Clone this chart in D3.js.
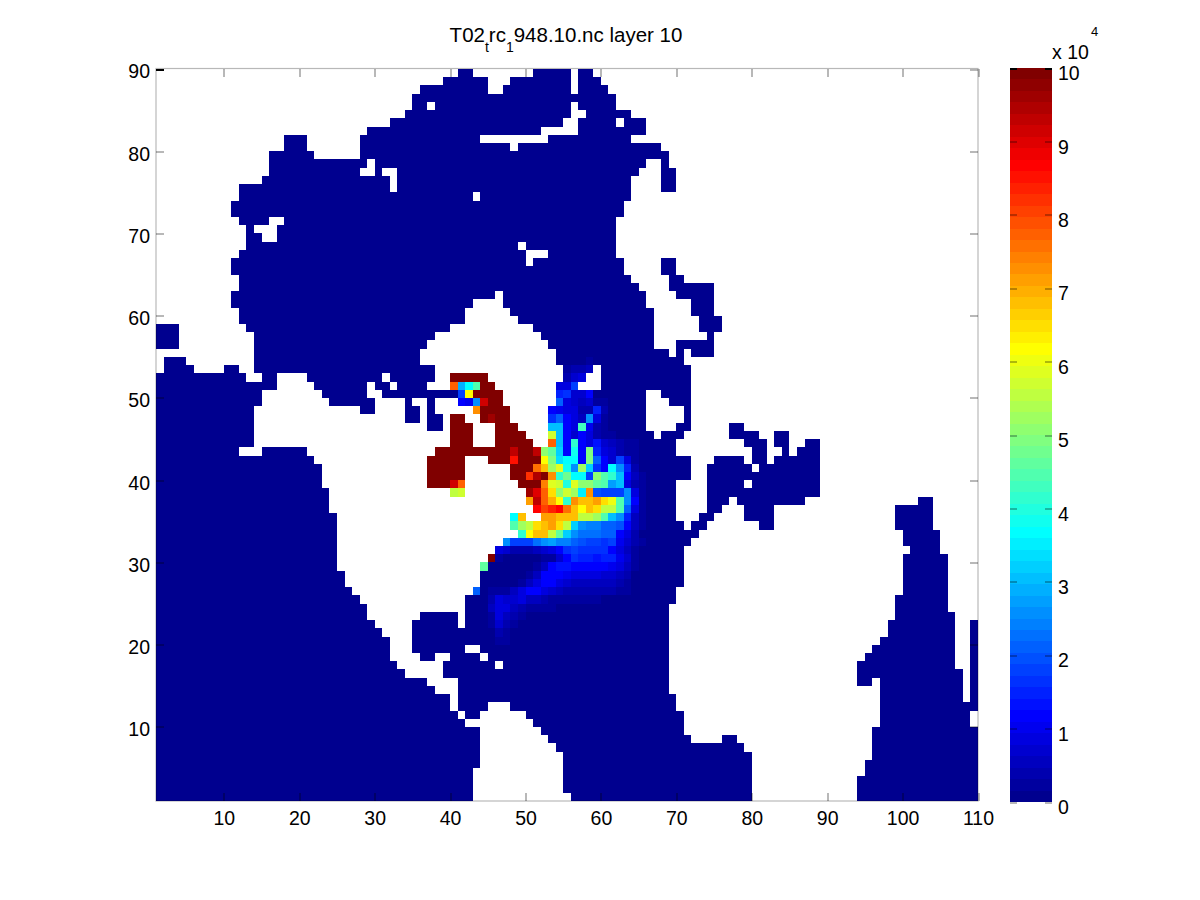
<!DOCTYPE html>
<html><head><meta charset="utf-8">
<script src="https://cdn.jsdelivr.net/npm/d3@7/dist/d3.min.js"></script>
<style>html,body{margin:0;background:#fff}svg{display:block}text{font-family:"Liberation Sans",Arial,sans-serif;fill:#000}</style>
</head><body><div id="c"></div>
<script>
const xTicks=[10,20,30,40,50,60,70,80,90,100,110];
const yTicks=[10,20,30,40,50,60,70,80,90];
const barTicks=[0,1,2,3,4,5,6,7,8,9,10];
// ocean mask: [layer row, from col, to col, from col, to col ...]
const seaRows=[
[89,41,42,51,55,57,58],[88,39,44,48,55,57,59],[87,36,44,47,55,57,60],[86,35,61],[85,35,36,38,55,57,61],
[84,34,55,58,63],[83,32,54,57,61,63,65],[82,29,51,57,65],[81,18,20,28,43,53,63],[80,18,20,28,47,49,67],
[79,16,21,28,68],[78,16,28,30,65,68,68],[77,16,27,30,30,33,64,68,69],[76,15,31,33,63,68,69],[75,12,31,33,63,68,69],
[74,12,42,44,63],[73,11,62],[72,11,62],[71,12,15,18,61],[70,13,13,17,61],[69,13,14,17,61],[68,13,48,50,61],
[67,12,49,53,61],[66,11,49,51,62,68,69],[65,11,62,68,69],[64,12,63,69,70],[63,12,64,69,74],[62,11,45,47,65,70,74],
[61,11,42,47,65,72,74],[60,12,41,48,66,72,74],[59,12,41,49,66,73,75],[58,1,3,13,39,51,66,73,75],[57,1,3,14,37,52,66,74,74],
[56,1,3,14,36,53,66,70,74],[55,14,35,54,68,70,70,72,74],[54,2,4,14,35,54,70],[53,2,5,10,11,14,37,55,58,60,71],
[52,1,12,15,16,21,30,32,37,55,57,60,71],[51,1,16,22,28,30,31,33,36,54,56,60,71],[50,1,14,23,28,31,40,54,65,68,71],
[49,1,14,24,29,34,34,37,37,54,65,69,71],[48,1,13,28,29,34,35,37,37,53,65,71,71],[47,1,13,34,35,37,38,53,65,71,71],
[46,1,13,37,38,53,65,70,71,77,78],[45,1,13,53,66,68,70,77,80,83,84],[44,1,13,53,69,79,81,83,84,87,88],
[43,1,11,15,20,52,69,80,81,84,84,86,88],[42,1,21,52,71,75,78,80,81,83,88],[41,1,22,51,71,74,79,81,88],
[40,1,22,50,71,74,88],[39,1,22,52,69,74,78,80,88],[38,1,23,50,69,74,88],[37,1,23,50,69,74,76,78,86,102,103],
[36,1,23,51,69,74,75,79,82,99,103],[35,1,24,52,69,73,74,79,82,99,103],[34,1,24,48,70,72,73,81,82,99,103],
[33,1,24,49,72,100,104],[32,1,24,47,71,100,104],[31,1,24,46,70,101,104],[30,1,24,46,70,100,105],[29,1,24,44,70,100,105],
[28,1,25,44,70,100,105],[27,1,25,44,70,100,105],[26,1,26,43,69,100,105],[25,1,27,42,69,99,105],[24,1,28,42,68,99,105],
[23,1,28,36,40,42,68,99,106],[22,1,29,35,40,42,68,98,106,109,109],[21,1,30,35,68,98,106,109,109],[20,1,31,35,68,97,106,109,109],
[19,1,31,35,41,44,68,96,106,109,109],[18,1,31,36,37,40,43,45,68,95,106,109,109],[17,1,32,39,45,47,68,94,106,109,109],
[16,1,33,39,68,94,107,109,109],[15,1,36,41,68,94,95,97,107,109,109],[14,1,37,41,68,97,107,109,109],[13,1,39,41,69,97,107,109,109],
[12,1,39,41,44,48,69,97,109],[11,1,40,42,43,50,70,97,108],[10,1,41,51,70,97,108],[9,1,43,52,70,96,109],[8,1,43,53,71,76,77,96,109],
[7,1,43,54,78,96,109],[6,1,43,55,79,96,109],[5,1,43,55,79,95,109],[4,1,42,55,79,95,109],[3,1,42,55,79,94,109],[2,1,42,55,79,94,109],[1,1,42,56,79,94,109]
];
// saturated cells (value above the colour limit): [row, from, to, from, to ...]
const saturatedRows=[
[52,40,44],[51,44,45],[50,43,46],[49,45,46],[48,44,47],[47,40,41,44,44,46,47],[46,40,42,46,48],[45,40,42,46,49],[44,40,42,46,50],
[43,38,47,49,50],[42,37,41,45,47,49,51],[41,37,41,48,50],[40,37,41,48,49],[39,37,39,49,51],[30,45,45]
];
// tracer values in units of 10^4: [row, first col, [values...]]
const plumeRows=[
[54,58,[.23]],
[53,55,[.23,.39,.39,.55]],
[52,55,[.39,.70,.86]],
[51,40,[7.73,2.89,3.67,4.45]],
[51,54,[.86,.86,1.80]],
[50,41,[1.80,6.17]],
[50,54,[1.48,1.64,.70,.70,1.17]],
[49,41,[1.17,1.02,2.58,9.14]],
[49,54,[2.11,.86,.70,.55,.70,.23,.23]],
[48,43,[7.27]],
[48,53,[1.17,1.02,.86,.86,.39,.39,1.48,.39]],
[47,45,[9.61]],
[47,53,[1.64,2.11,1.17,.86,.55,2.58,.86,.23]],
[46,53,[3.05,3.05,1.17,.86,4.30,1.02,.39,.23]],
[45,53,[5.70,3.05,1.17,.70,1.17,.86,.39,.23,.23]],
[44,53,[7.73,3.05,1.17,4.14,1.17,.86,1.33,.70,.55,.39,.23,.23]],
[43,48,[9.30]],
[43,51,[9.30,5.08,4.61,3.20,1.17,3.83,1.17,4.92,1.48,.86,.70,.39,.23,.23]],
[42,48,[8.52]],
[42,52,[6.17,4.92,3.36,3.67,3.67,1.17,4.92,2.11,1.17,.70,1.80,.86,.23]],
[41,51,[7.58,6.80,5.23,5.86,3.83,2.58,5.23,3.20,1.64,1.17,3.67,2.58,1.48,.39]],
[40,50,[8.20,9.45,9.92,7.27,4.14,4.77,3.67,3.67,1.80,5.08,4.45,4.14,3.05,1.17,.55,.23]],
[39,40,[9.14,7.73]],
[39,52,[7.42,5.86,5.70,3.98,5.86,5.08,5.08,4.61,4.45,2.73,3.05,.86,.39,.23]],
[38,40,[5.55,5.70]],
[38,50,[9.61,8.98,7.73,6.48,5.08,5.70,5.23,3.52,7.27,1.95,1.80,1.80,1.80,2.58,.86,.23]],
[37,50,[7.11,9.30,7.73,6.95,6.17,4.14,7.27,6.80,6.80,7.11,6.48,6.02,4.45,2.58,1.17,.23]],
[36,51,[8.67,8.05,8.36,8.67,7.58,6.80,6.17,6.80,6.48,5.55,5.55,4.45,2.11,.86,.23]],
[35,48,[3.67,6.80]],
[35,52,[7.11,7.11,6.80,6.80,6.80,5.55,5.55,5.23,4.45,3.05,2.58,1.48,.55,.23]],
[34,48,[4.45,5.23,5.55,6.48,6.80,7.11,6.48,5.55,3.20,2.58,2.42,2.42,2.11,2.11,1.95,1.17,.55,.23]],
[33,49,[4.14,6.17,6.80,6.80,5.55,4.61,3.20,2.58,2.27,2.27,2.27,2.11,2.11,1.17,.86,.39,.08]],
[32,47,[2.58,1.80,1.80,1.80,2.27,2.58,2.73,2.42,2.42,2.11,1.95,1.80,1.80,1.64,1.80,1.02,.70,.39,.23]],
[31,46,[.86,.70,.39,.39,.39,.55,.70,.86,1.17,1.64,1.80,1.64,1.64,1.64,1.64,1.17,.86,.55,.23,.08]],
[30,46,[.23,.08,.08,.08,.08,.08,.23,.23,.70,1.17,1.64,1.48,1.48,1.33,1.48,1.48,1.02,.70,.23]],
[29,44,[4.61,.08,.08,.08,.08,.08,.08,.23,.55,1.17,1.33,1.33,1.17,1.17,1.17,1.17,1.17,1.02,.86,.55,.23]],
[28,50,[.23,.55,1.17,1.17,1.17,1.02,.86,.86,.86,.86,.70,.70,.55,.39,.08]],
[27,49,[.23,.55,.86,1.17,1.17,.86,.70,.55,.55,.55,.55,.55,.55,.39,.23]],
[26,43,[2.11,.08,.23,.23,.23,.55,.86,1.17,1.17,.86,.70,.55,.39,.39,.39,.39,.39,.39,.39,.23,.23]],
[25,45,[.39,.86,.70,.70,.86,.55,.55,.39,.23,.23,.23,.23,.23,.23,.23]],
[24,45,[.55,.86,.86,.55,.39,.23,.23,.23,.23]],
[23,45,[.23,.86,.55,.39,.23]],
[22,45,[.23,.70,.39,.23]],
[21,45,[.08,.39,.23]],
[20,46,[.23,.23]]
];

function jet(i){ // MATLAB jet(64), i = 0..63
  const n=i+1;
  const ramp=(v)=>Math.round(255*Math.max(0,Math.min(1,v)));
  const r=n<=56?ramp((n-24)/16):ramp(1-(n-56)/16);
  const g=n<=40?ramp((n-8)/16):ramp(1-(n-40)/16);
  const b=n<=24?ramp(n<=8?(.5+n/16):1):ramp(1-(n-24)/16);
  return d3.rgb(r,g,b).formatHex();
}
const jetRange=d3.range(64).map(jet);

const W=1200,H=900,L=156,R=978,T=69,B=801;
const x=d3.scaleLinear().domain([1,110]).range([L,R]);
const y=d3.scaleLinear().domain([1,90]).range([B,T]);
const color=d3.scaleQuantize().domain([0,10]).range(jetRange);

const grid=new Map();
const key=(c,r)=>c+"_"+r;
seaRows.forEach(row=>{for(let i=1;i<row.length;i+=2)for(let c=row[i];c<=row[i+1];c++)grid.set(key(c,row[0]),{c,r:row[0],v:0});});
saturatedRows.forEach(row=>{for(let i=1;i<row.length;i+=2)for(let c=row[i];c<=row[i+1];c++)grid.set(key(c,row[0]),{c,r:row[0],v:10.5});});
plumeRows.forEach(([r,c0,vals])=>vals.forEach((v,i)=>grid.set(key(c0+i,r),{c:c0+i,r,v})));
const cells=Array.from(grid.values());

const svg=d3.select("#c").append("svg").attr("width",W).attr("height",H);
svg.append("g").attr("shape-rendering","crispEdges").selectAll("rect").data(cells).join("rect")
 .attr("x",d=>Math.round(x(d.c)))
 .attr("y",d=>Math.round(y(d.r+1)))
 .attr("width",d=>Math.round(x(d.c+1))-Math.round(x(d.c)))
 .attr("height",d=>Math.round(y(d.r))-Math.round(y(d.r+1)))
 .attr("fill",d=>color(d.v));

const LINE="#000", OP=.28, FS=19.5;
function style(g){
  g.select(".domain").remove();
  g.selectAll(".tick line").attr("stroke",LINE).attr("stroke-opacity",OP).attr("stroke-width",2).attr("shape-rendering","crispEdges");
  g.selectAll(".tick text").attr("font-size",FS).attr("font-family",'"Liberation Sans",Arial,sans-serif');
}
svg.append("g").attr("transform",`translate(0,${B})`).call(d3.axisBottom(x).tickValues(xTicks).tickSizeInner(-8).tickSizeOuter(0).tickPadding(10)).call(style);
svg.append("g").attr("transform",`translate(0,${T})`).call(d3.axisTop(x).tickValues(xTicks).tickSizeInner(-8).tickSizeOuter(0).tickFormat("")).call(style);
const yl=svg.append("g").attr("transform",`translate(${L},0)`).call(d3.axisLeft(y).tickValues(yTicks).tickSizeInner(-8).tickSizeOuter(0).tickPadding(6)).call(style);
yl.selectAll(".tick text").attr("dy","0.45em");
yl.selectAll(".tick line").filter(d=>d===90).attr("stroke-opacity",1);
svg.append("g").attr("transform",`translate(${R},0)`).call(d3.axisRight(y).tickValues(yTicks).tickSizeInner(-8).tickSizeOuter(0).tickFormat("")).call(style);
svg.append("rect").attr("x",L).attr("y",T-.5).attr("width",R-L).attr("height",B-T+.5).attr("fill","none").attr("stroke","#000").attr("stroke-opacity",OP).attr("stroke-width",1.2);

// colour bar
const BL=1010,BR=1052,BT=68,BB=802;
const by=d3.scaleLinear().domain([0,10]).range([BB,BT]);
svg.append("g").attr("shape-rendering","crispEdges").selectAll("rect").data(d3.range(64)).join("rect")
 .attr("x",BL).attr("width",BR-BL)
 .attr("y",i=>Math.round(by((i+1)/6.4)))
 .attr("height",i=>Math.round(by(i/6.4))-Math.round(by((i+1)/6.4)))
 .attr("fill",i=>jetRange[i]);
const bl=svg.append("g").attr("transform",`translate(${BR},0)`).call(d3.axisRight(by).tickValues(barTicks).tickSizeInner(-7).tickSizeOuter(0).tickPadding(6)).call(style);
bl.selectAll(".tick text").attr("dy","0.6em");
bl.selectAll(".tick line").filter(d=>d===10).attr("stroke-opacity",1);
const blL=svg.append("g").attr("transform",`translate(${BL},0)`).call(d3.axisLeft(by).tickValues(barTicks).tickSizeInner(-7).tickSizeOuter(0).tickFormat("")).call(style);
blL.selectAll(".tick line").filter(d=>d===10).attr("stroke-opacity",1);
svg.append("text").attr("x",1052).attr("y",59).attr("font-size",FS).text("x 10");
svg.append("text").attr("x",1091).attr("y",36).attr("font-size",13).text("4");

// title
const t=svg.append("text").attr("x",566).attr("y",42).attr("text-anchor","middle").attr("font-size",20.5);
t.append("tspan").text("T02");
t.append("tspan").attr("dy",10).attr("font-size",14).text("t");
t.append("tspan").attr("dy",-10).text("rc");
t.append("tspan").attr("dy",10).attr("font-size",14).text("1");
t.append("tspan").attr("dy",-10).text("948.10.nc layer 10");
</script></body></html>
